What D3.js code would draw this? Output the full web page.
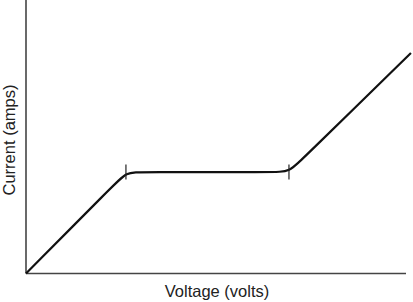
<!DOCTYPE html>
<html>
<head>
<meta charset="utf-8">
<script src="https://cdn.jsdelivr.net/npm/d3@7"></script>
<style>
  body { margin: 0; background: #fff; }
  text { font-family: "Liberation Sans", Arial, sans-serif; fill: #222; }
</style>
</head>
<body>
<div id="chart"></div>
<script>
// I-V curve, arbitrary units
const voltage = [0, 2.3, 2.65, 3.0, 6.55, 6.92, 7.3, 10.13];
const current = [0, 3.22, 3.71, 3.71, 3.71, 3.71, 4.22, 8.06];
const kneeVolts = [2.63, 6.92];
const xLabel = 'Voltage (volts)',
      yLabel = 'Current (amps)';

const width = 413, height = 302;
const margin = { top: 0, right: 7, bottom: 28.5, left: 26 };

const svg = d3.select('#chart').append('svg')
    .attr('width', width)
    .attr('height', height);

const xScale = d3.scaleLinear().domain([0, 10]).range([margin.left, width - margin.right]),
      yScale = d3.scaleLinear().domain([0, 10]).range([height - margin.bottom, margin.top]);

const data = voltage.map((v, i) => ({ v: v, c: current[i] }));

// axes (just the lines, no ticks)
svg.append('line')
    .attr('x1', xScale(0)).attr('x2', xScale(10))
    .attr('y1', yScale(0)).attr('y2', yScale(0))
    .style('stroke', '#444').style('stroke-width', 1.6);

svg.append('line')
    .attr('x1', xScale(0)).attr('x2', xScale(0))
    .attr('y1', yScale(0)).attr('y2', yScale(10))
    .style('stroke', '#444').style('stroke-width', 1.6);

const line = d3.line()
    .x(d => xScale(d.v))
    .y(d => yScale(d.c))
    .curve(d3.curveBasis);

svg.append('path')
    .datum(data)
    .attr('d', line)
    .style('fill', 'none')
    .style('stroke', '#111')
    .style('stroke-width', 2.2);

// knee markers
svg.selectAll('.knee')
    .data(kneeVolts)
  .enter().append('line')
    .attr('class', 'knee')
    .attr('x1', d => xScale(d)).attr('x2', d => xScale(d))
    .attr('y1', yScale(current[2]) - 7.5)
    .attr('y2', yScale(current[2]) + 7.5)
    .style('stroke', '#222').style('stroke-width', 1.2);

svg.append('text')
    .attr('x', 217)
    .attr('y', height - 5)
    .attr('text-anchor', 'middle')
    .style('font-size', '16.5px')
    .text(xLabel);

svg.append('text')
    .attr('transform', 'translate(15,140) rotate(-90)')
    .attr('text-anchor', 'middle')
    .style('font-size', '16.5px')
    .text(yLabel);
</script>
</body>
</html>
